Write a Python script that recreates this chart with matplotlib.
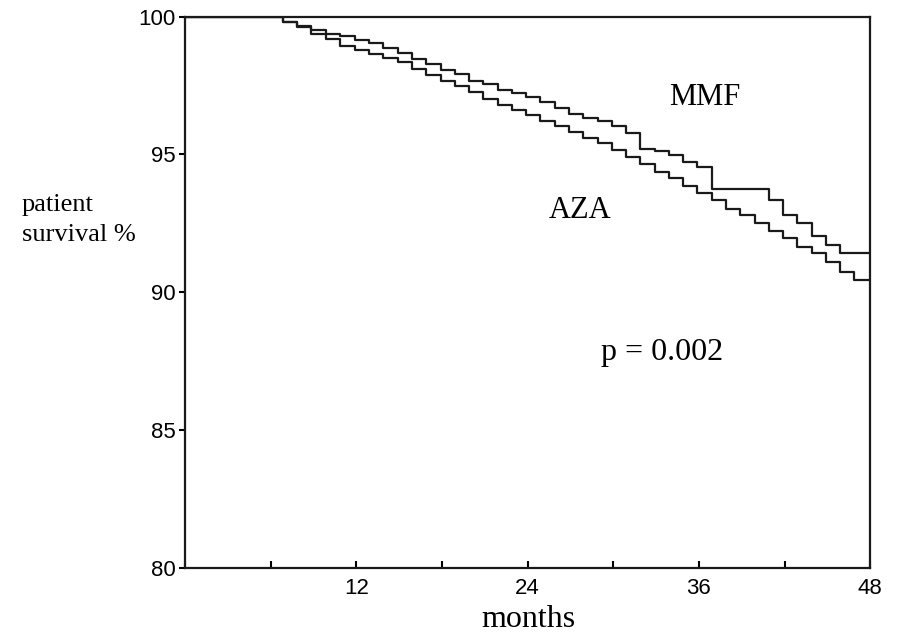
import matplotlib.pyplot as plt

# step times (months)
mmf_t = [0, 6.85, 7.85, 8.85, 9.85, 10.85, 11.9, 12.9, 13.9, 14.9, 15.9,
         16.9, 17.9, 18.9, 19.9, 20.9, 21.9, 22.9, 23.9, 24.9, 25.9,
         26.9, 27.9, 28.9, 29.9, 30.9, 31.9, 32.9, 33.9, 34.9, 35.9,
         36.9, 40.9, 41.9, 42.9, 43.9, 44.9, 45.9, 48]
mmf_s = [100, 99.80, 99.67, 99.52, 99.37, 99.31, 99.16, 99.05, 98.87, 98.67, 98.47,
         98.29, 98.08, 97.90, 97.68, 97.56, 97.35, 97.22, 97.07, 96.90, 96.70,
         96.45, 96.32, 96.20, 96.02, 95.78, 95.21, 95.12, 94.97, 94.72, 94.54,
         93.76, 93.36, 92.80, 92.50, 92.03, 91.72, 91.42, 91.42]

aza_t = [0, 6.85, 7.85, 8.85, 9.85, 10.85, 11.9, 12.9, 13.9, 14.9, 15.9,
         16.9, 17.9, 18.9, 19.9, 20.9, 21.9, 22.9, 23.9, 24.9, 25.9,
         26.9, 27.9, 28.9, 29.9, 30.9, 31.9, 32.9, 33.9, 34.9, 35.9,
         36.9, 37.9, 38.9, 39.9, 40.9, 41.9, 42.9, 43.9, 44.9, 45.9, 46.9, 48]
aza_s = [100, 99.80, 99.61, 99.37, 99.19, 98.95, 98.79, 98.63, 98.50, 98.34, 98.10,
         97.88, 97.68, 97.50, 97.27, 97.00, 96.80, 96.60, 96.42, 96.20, 96.02,
         95.83, 95.60, 95.41, 95.15, 94.90, 94.66, 94.38, 94.13, 93.86, 93.60,
         93.35, 93.04, 92.81, 92.51, 92.21, 91.97, 91.66, 91.42, 91.10, 90.75, 90.45, 90.45]

x_ticks = [0, 6, 12, 18, 24, 30, 36, 42, 48]
x_labels = ['', '', '12', '', '24', '', '36', '', '48']
y_ticks = [80, 85, 90, 95, 100]

fig = plt.figure(figsize=(8.98, 6.37), dpi=100)
ax = fig.add_axes([0.206, 0.108, 0.763, 0.866])

ax.plot(mmf_t, mmf_s, drawstyle='steps-post', color='#1a1a1a', lw=1.6)
ax.plot(aza_t, aza_s, drawstyle='steps-post', color='#1a1a1a', lw=1.6)

ax.set_xlim(0, 48)
ax.set_ylim(80, 100)
ax.set_xticks(x_ticks)
ax.set_xticklabels(x_labels, fontsize=16, family='Liberation Sans')
ax.set_yticks(y_ticks)
ax.set_yticklabels([str(v) for v in y_ticks], fontsize=16, family='Liberation Sans')
ax.tick_params(axis='x', direction='in', length=5, width=1.5, pad=7)
ax.tick_params(axis='y', direction='out', length=4, width=1.5, pad=3)
for s in ax.spines.values():
    s.set_linewidth(1.6)
    s.set_color('#1a1a1a')

serif = 'Liberation Serif'
ax.text(36.4, 97.07, 'MMF', fontsize=22, family=serif, ha='center', va='center')
ax.text(27.7, 92.97, 'AZA', fontsize=22, family=serif, ha='center', va='center')
ax.text(33.4, 87.83, 'p = 0.002', fontsize=23, family=serif, ha='center', va='center')

fig.text(0.024, 0.655, 'patient\nsurvival %', fontsize=19, family=serif,
         ha='left', va='center', linespacing=1.45)
fig.text(0.588, 0.027, 'months', fontsize=23, family=serif, ha='center', va='center')

fig.savefig('out.png', dpi=100)
